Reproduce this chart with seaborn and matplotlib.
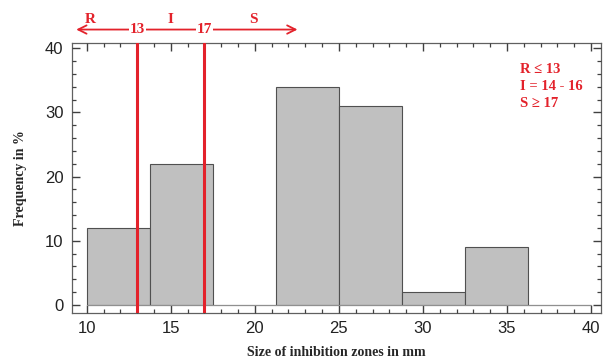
import numpy as np
import pandas as pd
import matplotlib
matplotlib.use("Agg")
import matplotlib.pyplot as plt
import seaborn as sns
from matplotlib.ticker import MultipleLocator

# Data
bin_edges = [10, 13.75, 17.5, 21.25, 25, 28.75, 32.5, 36.25, 40]
frequencies = [12, 22, 0, 34, 31, 2, 9, 0]
breakpoints = [13, 17]
zone_labels = ["R", "I", "S"]
legend_lines = ["R \u2264 13", "I = 14 - 16", "S \u2265 17"]

centers = [(a + b) / 2 for a, b in zip(bin_edges[:-1], bin_edges[1:])]
df = pd.DataFrame({"size": centers, "freq": frequencies})

sns.set_style("ticks")
red = "#e3222b"

fig = plt.figure(figsize=(6.03, 3.58), dpi=100)
ax = fig.add_axes([0.119, 0.1265, 0.8777, 0.7542])
ax.set_axisbelow(False)

sns.histplot(data=df, x="size", weights="freq", bins=bin_edges, ax=ax,
             color="#c0c0c0", edgecolor="#505050", linewidth=0.8, alpha=1.0)

ax.plot([10, 40], [0, 0], color="#909090", lw=0.8, zorder=3)

for b in breakpoints:
    ax.axvline(b, color=red, lw=2.2, zorder=4)

ax.set_xlim(9.1, 40.6)
ax.set_ylim(-1.2, 40.85)
ax.set_xticks([10, 15, 20, 25, 30, 35, 40])
ax.set_yticks([0, 10, 20, 30, 40])
ax.xaxis.set_minor_locator(MultipleLocator(1))
ax.yaxis.set_minor_locator(MultipleLocator(2))
ax.tick_params(which="both", direction="in", top=True, right=True,
               color="#404040", width=1.0)
ax.tick_params(which="major", length=6, labelsize=12, labelcolor="#222222", pad=6)
ax.tick_params(which="minor", length=3, width=0.9)
for lab in ax.get_xticklabels() + ax.get_yticklabels():
    lab.set_fontfamily("Liberation Sans")
for s in ax.spines.values():
    s.set_color("#606060")
    s.set_linewidth(0.9)

ax.set_xlabel("Size of inhibition zones in mm", family="Liberation Serif",
              fontweight="bold", fontsize=10, labelpad=7)
ax.set_ylabel("Frequency in %", family="Liberation Serif",
              fontweight="bold", fontsize=10, labelpad=13)

# Top zone arrow
ya = 42.9
ax.annotate("", xy=(9.2, ya), xytext=(22.7, ya),
            arrowprops=dict(arrowstyle="<->", color=red, lw=1.3,
                            mutation_scale=15),
            annotation_clip=False)
for b in breakpoints:
    ax.text(b, ya, str(b), color=red, ha="center", va="center",
            family="Liberation Serif", fontweight="bold", fontsize=11,
            bbox=dict(facecolor="white", edgecolor="none", pad=0.5),
            clip_on=False, zorder=6)
for lab, xp in zip(zone_labels, [10.2, 15.0, 19.9]):
    ax.text(xp, 44.4, lab, color=red, ha="center", va="center",
            family="Liberation Serif", fontweight="bold", fontsize=11,
            clip_on=False)

for i, t in enumerate(legend_lines):
    ax.text(35.8, 36.6 - i * 2.6, t, color=red, ha="left", va="center",
            family="Liberation Serif", fontweight="bold", fontsize=10.5)

fig.savefig("out.png", dpi=100)
